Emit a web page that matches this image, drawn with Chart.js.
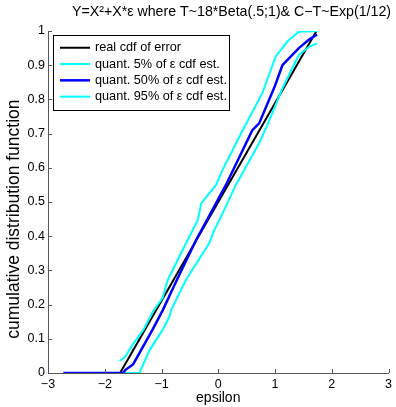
<!DOCTYPE html>
<html>
<head>
<meta charset="utf-8">
<script src="https://cdn.jsdelivr.net/npm/chart.js@4/dist/chart.umd.min.js"></script>
<style>
html,body{margin:0;padding:0;background:#fff;}
#wrap{position:relative;width:396px;height:407px;}
</style>
</head>
<body>
<div id="wrap"><canvas id="c" width="396" height="407"></canvas></div>
<script>
// ---- data ----
const titleText = "Y=X\u00B2+X*\u03B5 where T~18*Beta(.5;1)& C\u2212T~Exp(1/12)";
const xTitle = "epsilon";
const yTitle = "cumulative distribution function";
const xTicks = [-3, -2, -1, 0, 1, 2, 3];
const yTicks = [0, 0.1, 0.2, 0.3, 0.4, 0.5, 0.6, 0.7, 0.8, 0.9, 1];
const seriesLabels = ["real cdf of error", "quant. 5% of \u03B5 cdf est.", "quant. 50% of \u03B5 cdf est.", "quant. 95% of \u03B5 cdf est."];

const realX = [-1.73, 1.73];
const realY = [0, 1];

const q05X = [-1.68, -1.39, -1.21, -0.98, -0.86, -0.83, -0.57, -0.16, -0.07, 0.02, 0.31, 0.72, 0.865, 1.13, 1.42, 1.6, 1.74];
const q05Y = [0, 0, 0.067, 0.126, 0.165, 0.184, 0.272, 0.379, 0.418, 0.447, 0.55, 0.672, 0.725, 0.832, 0.93, 0.954, 0.964];

const q50X = [-2.73, -1.68, -1.63, -1.5, -1.39, -1.16, -0.977, -0.73, -0.39, -0.19, 0.135, 0.6, 0.72, 1.0, 1.13, 1.42, 1.6, 1.74];
const q50Y = [0, 0, 0.01, 0.025, 0.058, 0.126, 0.184, 0.272, 0.389, 0.45, 0.55, 0.71, 0.73, 0.84, 0.9, 0.95, 0.975, 0.99];

const q95X = [-1.74, -1.65, -1.5, -1.32, -1.15, -0.98, -0.89, -0.54, -0.45, -0.36, -0.3, -0.04, 0.076, 0.43, 0.51, 0.78, 1.01, 1.22, 1.42, 1.75];
const q95Y = [0.035, 0.045, 0.085, 0.126, 0.18, 0.22, 0.272, 0.389, 0.418, 0.447, 0.496, 0.55, 0.594, 0.71, 0.735, 0.82, 0.925, 0.97, 0.998, 1.0];

// ---- build ----
const FONT = "'Liberation Sans', Arial, Helvetica, sans-serif";
const toPts = (xs, ys) => xs.map((x, i) => ({x: x, y: ys[i]}));
const colors = ["#000000", "#00FFFF", "#0000FF", "#00FFFF"];
const widths = [2, 2, 2.5, 2];
const seriesData = [toPts(realX, realY), toPts(q05X, q05Y), toPts(q50X, q50Y), toPts(q95X, q95Y)];

const datasets = seriesData.map((d, i) => ({
  label: seriesLabels[i],
  data: d,
  showLine: true,
  borderColor: colors[i],
  backgroundColor: colors[i],
  borderWidth: widths[i],
  pointRadius: 0,
  tension: 0,
  fill: false,
  order: 4 - i
}));

const innerTicks = {
  id: 'innerTicks',
  afterDatasetsDraw(chart) {
    const ctx = chart.ctx, a = chart.chartArea;
    const xs = chart.scales.x, ys = chart.scales.y;
    ctx.save();
    ctx.strokeStyle = '#555555';
    ctx.lineWidth = 1;
    ctx.beginPath();
    xTicks.forEach(v => {
      const px = Math.round(xs.getPixelForValue(v)) + 0.5;
      ctx.moveTo(px, a.bottom); ctx.lineTo(px, a.bottom - 4);
    });
    yTicks.forEach(v => {
      const py = Math.round(ys.getPixelForValue(v)) + 0.5;
      ctx.moveTo(a.left, py); ctx.lineTo(a.left + 4, py);
    });
    ctx.stroke();
    // y axis title
    ctx.fillStyle = '#000';
    ctx.font = "17.5px " + FONT;
    ctx.textAlign = 'center';
    ctx.textBaseline = 'middle';
    ctx.translate(14, a.top + (a.bottom - a.top) * 0.55);
    ctx.rotate(-Math.PI / 2);
    ctx.fillText(yTitle, 0, 0);
    ctx.restore();
  }
};

const boxLegend = {
  id: 'boxLegend',
  afterDraw(chart) {
    const ctx = chart.ctx, a = chart.chartArea;
    const x0 = a.left + 5, y0 = a.top + 4, w = 176, h = 75;
    ctx.save();
    ctx.fillStyle = '#fff';
    ctx.fillRect(x0, y0, w, h);
    ctx.strokeStyle = '#000';
    ctx.lineWidth = 1;
    ctx.strokeRect(Math.round(x0) + 0.5, Math.round(y0) + 0.5, w, h);
    ctx.font = "12.7px " + FONT;
    ctx.textBaseline = 'middle';
    ctx.textAlign = 'left';
    chart.data.datasets.forEach((ds, i) => {
      const yy = y0 + 12.7 + i * 16.3;
      ctx.strokeStyle = ds.borderColor;
      ctx.lineWidth = ds.borderWidth;
      ctx.beginPath();
      ctx.moveTo(x0 + 7, yy); ctx.lineTo(x0 + 37, yy);
      ctx.stroke();
      ctx.fillStyle = '#000';
      ctx.fillText(ds.label, x0 + 42, yy);
    });
    ctx.restore();
  }
};

new Chart(document.getElementById('c'), {
  type: 'scatter',
  data: { datasets: datasets },
  plugins: [innerTicks, boxLegend],
  options: {
    responsive: false,
    animation: false,
    events: [],
    layout: { padding: { left: 0, right: 5, top: 0, bottom: 0 } },
    plugins: {
      legend: { display: false },
      tooltip: { enabled: false },
      title: {
        display: true,
        text: titleText,
        align: 'end',
        color: '#000',
        font: { family: FONT, size: 14.2, weight: 'normal' },
        padding: { top: 4, bottom: 10 }
      }
    },
    scales: {
      x: {
        type: 'linear',
        min: -3, max: 3,
        afterBuildTicks(s) { s.ticks = xTicks.map(v => ({value: v})); },
        afterFit(s) { s.height = 34; },
        grid: { display: false, drawTicks: false },
        border: { display: true, color: '#555555', width: 1 },
        ticks: {
          color: '#000', padding: 4,
          font: { family: FONT, size: 12.5 },
          callback: v => (v < 0 ? '\u2212' + Math.abs(v) : String(v))
        },
        title: { display: true, text: xTitle, color: '#000',
          font: { family: FONT, size: 14 }, padding: { top: 0, bottom: 0 } }
      },
      y: {
        type: 'linear',
        min: 0, max: 1,
        afterBuildTicks(s) { s.ticks = yTicks.map(v => ({value: v})); },
        afterFit(s) { s.width = 48; },
        grid: { display: false, drawTicks: false },
        border: { display: true, color: '#555555', width: 1 },
        ticks: {
          color: '#000', padding: 3,
          font: { family: FONT, size: 12.5 },
          callback: v => String(Math.round(v * 10) / 10)
        },
        title: { display: false }
      }
    }
  }
});
</script>
</body>
</html>
